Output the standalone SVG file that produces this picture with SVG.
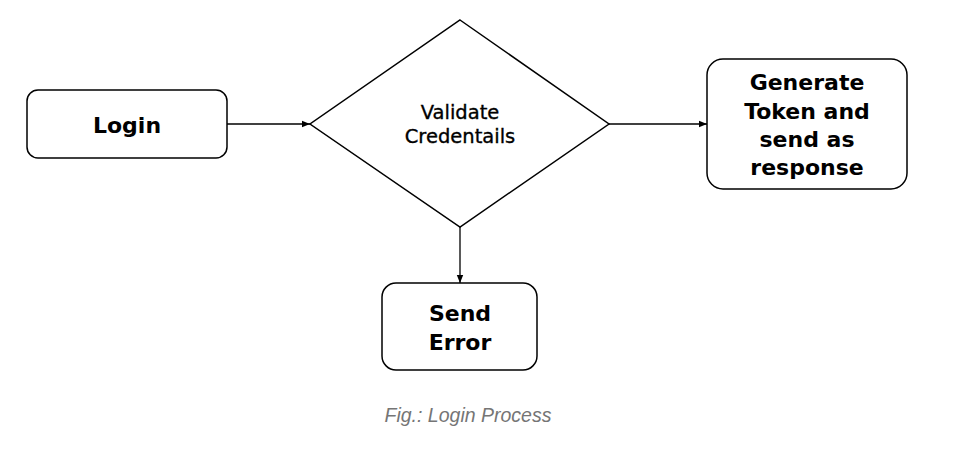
<svg xmlns="http://www.w3.org/2000/svg" width="962" height="457" viewBox="0 0 962 457">
<defs>
<style>
.box{fill:#fff;stroke:#000;stroke-width:1.5}
.lbl{font-family:"DejaVu Sans",sans-serif;font-weight:bold;font-size:22px;fill:#000;text-anchor:middle}
.mid{font-family:"DejaVu Sans",sans-serif;font-weight:normal;font-size:19.5px;fill:#000;text-anchor:middle;stroke:#000;stroke-width:0.35}
.edge{fill:none;stroke:#000;stroke-width:1.3}
.cap{font-family:"Liberation Sans",Arial,sans-serif;font-style:italic;font-size:19.5px;fill:#757575;text-anchor:middle}
</style>
<marker id="arr" viewBox="0 0 10 10" refX="10" refY="5" markerWidth="8" markerHeight="8" markerUnits="userSpaceOnUse" orient="auto">
<path d="M0,1 L10,5 L0,9 z" fill="#000"/>
</marker>
</defs>
<rect width="962" height="457" fill="#fff"/>
<g id="connectors">
<line class="edge" x1="227" y1="124" x2="310" y2="124" marker-end="url(#arr)"/>
<line class="edge" x1="609" y1="124" x2="707" y2="124" marker-end="url(#arr)"/>
<line class="edge" x1="460" y1="227" x2="460" y2="283" marker-end="url(#arr)"/>
</g>
<g id="login">
<rect class="box" x="27" y="90" width="200" height="68" rx="11"/>
<text class="lbl" x="127" y="133">Login</text>
</g>
<g id="validate">
<polygon class="box" points="460,20 609,124 460,227 310,124"/>
<text class="mid" x="460" y="119">Validate</text>
<text class="mid" x="460" y="143">Credentails</text>
</g>
<g id="token">
<rect class="box" x="707" y="59" width="200" height="130" rx="16"/>
<text class="lbl" x="807" y="90">Generate</text>
<text class="lbl" x="807" y="119">Token and</text>
<text class="lbl" x="807" y="147">send as</text>
<text class="lbl" x="807" y="175">response</text>
</g>
<g id="error">
<rect class="box" x="382" y="283" width="155" height="87" rx="14"/>
<text class="lbl" x="460" y="321">Send</text>
<text class="lbl" x="460" y="350">Error</text>
</g>
<text class="cap" x="468" y="422">Fig.: Login Process</text>
</svg>
